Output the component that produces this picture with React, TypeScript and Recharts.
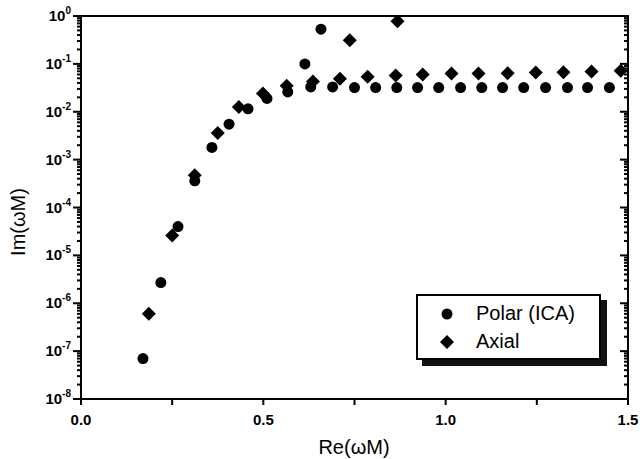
import { ScatterChart, Scatter, XAxis, YAxis, ReferenceLine } from 'recharts';

const polarRe = [0.170, 0.219, 0.266, 0.312, 0.359, 0.406, 0.458, 0.510, 0.567, 0.614, 0.630, 0.658, 0.690, 0.750, 0.808, 0.866, 0.923, 0.981, 1.041, 1.099, 1.156, 1.214, 1.274, 1.334, 1.389, 1.449];
const polarIm = [7e-8, 2.7e-6, 4e-5, 3.6e-4, 1.8e-3, 5.5e-3, 1.15e-2, 1.9e-2, 2.6e-2, 0.10, 0.033, 0.53, 0.033, 0.032, 0.032, 0.032, 0.032, 0.032, 0.032, 0.032, 0.032, 0.032, 0.032, 0.032, 0.032, 0.032];

const axialRe = [0.186, 0.250, 0.312, 0.375, 0.433, 0.499, 0.564, 0.636, 0.710, 0.737, 0.786, 0.863, 0.868, 0.937, 1.016, 1.090, 1.170, 1.247, 1.323, 1.400, 1.480];
const axialIm = [6e-7, 2.6e-5, 4.7e-4, 3.6e-3, 1.26e-2, 2.4e-2, 3.5e-2, 4.3e-2, 4.9e-2, 0.31, 0.054, 0.057, 0.78, 0.060, 0.063, 0.063, 0.064, 0.066, 0.067, 0.069, 0.072];

const xTicks = [0, 0.25, 0.5, 0.75, 1.0, 1.25, 1.5];
const xLabels = ['0.0', '', '0.5', '', '1.0', '', '1.5'];
const decades = [-8, -7, -6, -5, -4, -3, -2, -1, 0];
const minorMult = [2, 3, 4, 5, 6, 7, 8, 9];

const yTicks: number[] = [];
decades.forEach(e => {
  yTicks.push(Math.pow(10, e));
  if (e < 0) minorMult.forEach(m => yTicks.push(m * Math.pow(10, e)));
});
const yMajor = decades.map(e => Math.pow(10, e));

const polarData = polarRe.map((x, i) => ({ x, y: polarIm[i] }));
const axialData = axialRe.map((x, i) => ({ x, y: axialIm[i] }));

const font = '"Liberation Sans", Arial, sans-serif';
// default tickSize (6) + tickMargin (2): tick props sit 8px off the axis line
const OFF = 8;
const W = 640;
const H = 459;
const margin = { top: 0, right: 0, bottom: 0, left: 0 };

const isMajor = (v: number) => Math.abs(Math.log10(v) - Math.round(Math.log10(v))) < 1e-6;

// tick marks
const LeftMark = ({ x, y, payload }: any) => {
  const len = isMajor(payload.value) ? 8 : 4;
  return <rect x={x + OFF - len} y={y - 1} width={len} height={2} fill="#000" />;
};
const RightMark = ({ x, y, payload }: any) => {
  const len = isMajor(payload.value) ? 8 : 4;
  return <rect x={x - OFF - len} y={y - 1} width={len} height={2} fill="#000" />;
};
const BottomMark = ({ x, y }: any) => <rect x={x - 1} y={y - OFF} width={2} height={6} fill="#000" />;
const TopMark = ({ x, y }: any) => <rect x={x - 1} y={y + OFF} width={2} height={5} fill="#000" />;

// tick labels
const LeftLabel = ({ x, y, payload }: any) => {
  const e = Math.round(Math.log10(payload.value));
  return (
    <text x={x + OFF - 10} y={y + 5} textAnchor="end" fontFamily={font} fontWeight="bold" fontSize={15} fill="#000">
      10<tspan dy={-7} fontSize={10}>{e}</tspan>
    </text>
  );
};
const BottomLabel = ({ x, y, index }: any) =>
  xLabels[index] ? (
    <text x={x} y={y - OFF + 26} textAnchor="middle" fontFamily={font} fontWeight="bold" fontSize={15} fill="#000">
      {xLabels[index]}
    </text>
  ) : <g />;

const Dot = ({ cx, cy }: any) => <circle cx={cx} cy={cy} r={5.5} fill="#000" />;
const Diamond = ({ cx, cy }: any) => (
  <polygon points={`${cx},${cy - 7} ${cx + 7},${cy} ${cx},${cy + 7} ${cx - 7},${cy}`} fill="#000" />
);
const Nothing = () => <g />;

export default function App() {
  return (
    <div style={{ position: 'absolute', left: 0, top: 0, width: W, height: H }}>
      {/* points, frame and tick marks */}
      <div style={{ position: 'absolute', left: 0, top: 0 }}>
        <ScatterChart width={W} height={H} margin={margin}>
          <XAxis type="number" dataKey="x" domain={[0, 1.5]} ticks={xTicks} interval={0} height={60}
            tickLine={false} stroke="#000" strokeWidth={2} tick={<BottomMark />} />
          <XAxis xAxisId="top" orientation="top" type="number" domain={[0, 1.5]} ticks={xTicks} interval={0} height={16}
            tickLine={false} stroke="#000" strokeWidth={2} tick={<TopMark />} />
          <YAxis type="number" dataKey="y" scale="log" domain={[1e-8, 1]} allowDataOverflow ticks={yTicks} interval={0} width={81}
            tickLine={false} stroke="#000" strokeWidth={2} tick={<LeftMark />} />
          <YAxis yAxisId="right" orientation="right" type="number" scale="log" domain={[1e-8, 1]} allowDataOverflow ticks={yTicks} interval={0} width={12}
            tickLine={false} stroke="#000" strokeWidth={2} tick={<RightMark />} />
          <ReferenceLine x={0} stroke="#000" strokeWidth={2} />
          <ReferenceLine x={1.5} stroke="#000" strokeWidth={2} />
          <ReferenceLine y={1e-8} stroke="#000" strokeWidth={2} />
          <ReferenceLine y={1} stroke="#000" strokeWidth={2} />
          <Scatter data={polarData} shape={<Dot />} isAnimationActive={false} />
          <Scatter data={axialData} shape={<Diamond />} isAnimationActive={false} />
        </ScatterChart>
      </div>

      {/* tick labels on the same axes */}
      <div style={{ position: 'absolute', left: 0, top: 0, pointerEvents: 'none' }}>
        <ScatterChart width={W} height={H} margin={margin}>
          <XAxis type="number" dataKey="x" domain={[0, 1.5]} ticks={xTicks} interval={0} height={60}
            tickLine={false} axisLine={false} tick={<BottomLabel />} />
          <XAxis xAxisId="top" orientation="top" type="number" domain={[0, 1.5]} height={16}
            tickLine={false} axisLine={false} tick={false} />
          <YAxis type="number" dataKey="y" scale="log" domain={[1e-8, 1]} allowDataOverflow ticks={yMajor} interval={0} width={81}
            tickLine={false} axisLine={false} tick={<LeftLabel />} />
          <YAxis yAxisId="right" orientation="right" type="number" scale="log" domain={[1e-8, 1]} allowDataOverflow width={12}
            tickLine={false} axisLine={false} tick={false} />
          <Scatter data={polarData} shape={<Nothing />} isAnimationActive={false} />
        </ScatterChart>
      </div>

      {/* plot frame */}
      <div style={{ position: 'absolute', left: 80, top: 15, width: 549, height: 385, boxSizing: 'border-box', border: '2px solid #000', pointerEvents: 'none' }} />

      <div style={{ position: 'absolute', left: 18, top: 222, transform: 'translate(-50%, -50%) rotate(-90deg)', fontFamily: font, fontSize: 20, whiteSpace: 'nowrap' }}>
        Im(ωM)
      </div>
      <div style={{ position: 'absolute', left: 354, top: 447, transform: 'translate(-50%, -50%)', fontFamily: font, fontSize: 20, whiteSpace: 'nowrap' }}>
        Re(ωM)
      </div>

      <div style={{ position: 'absolute', left: 416, top: 294, width: 181, height: 62, border: '2px solid #000', background: '#fff', boxShadow: '6px 6px 0 #111', fontFamily: font, fontSize: 20 }}>
        <div style={{ position: 'absolute', left: 22, top: 6, display: 'flex', alignItems: 'center' }}>
          <svg width={14} height={14}><circle cx={7} cy={7} r={5.5} fill="#000" /></svg>
          <span style={{ marginLeft: 22 }}>Polar (ICA)</span>
        </div>
        <div style={{ position: 'absolute', left: 22, top: 34, display: 'flex', alignItems: 'center' }}>
          <svg width={14} height={14}><polygon points="7,0 14,7 7,14 0,7" fill="#000" /></svg>
          <span style={{ marginLeft: 22 }}>Axial</span>
        </div>
      </div>
    </div>
  );
}
